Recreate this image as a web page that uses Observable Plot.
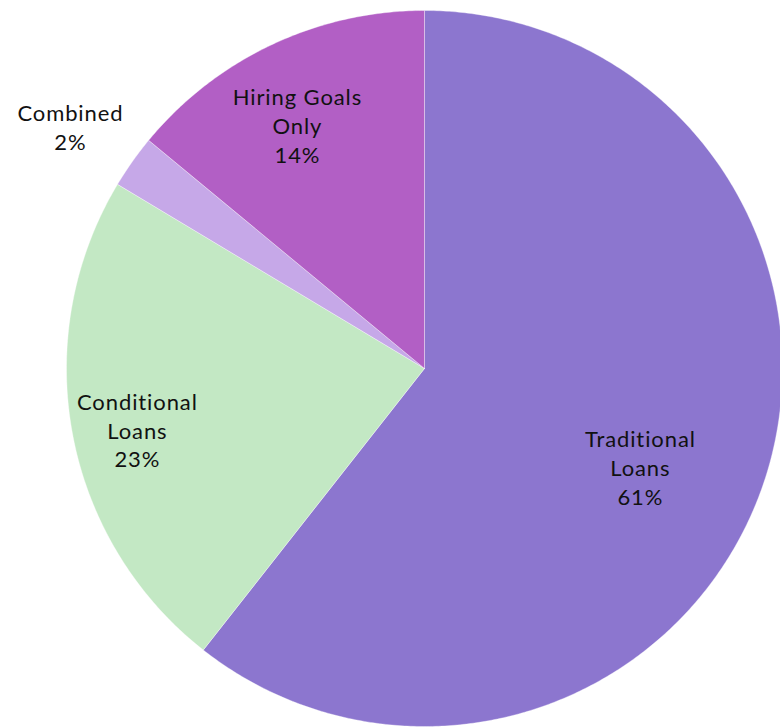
<!DOCTYPE html>
<html>
<head>
<meta charset="utf-8">
<script src="https://cdn.jsdelivr.net/npm/d3@7"></script>
<script src="https://cdn.jsdelivr.net/npm/@observablehq/plot@0.6"></script>
<style>
  html, body { margin: 0; padding: 0; background: #fff; }
  #chart svg { display: block; }
  #chart text { letter-spacing: 0.9px; }
</style>
</head>
<body>
<div id="chart"></div>
<script>
// ---- data ----
const categories = ["Traditional Loans", "Conditional Loans", "Combined", "Hiring Goals Only"];
const values = [60.6, 23.0, 2.4, 14.0];
const labelText = ["Traditional\nLoans", "Conditional\nLoans", "Combined", "Hiring Goals\nOnly"];
const colors = ["#8c76cf", "#c3e8c4", "#c6a8e8", "#b25fc5"];

// ---- layout ----
const W = 780, H = 727;
const cx = 424, cy = 368, R = 358;
// label anchors in units of the radius, relative to the pie centre (y up)
const labelPos = {
  "Traditional Loans": [0.603, -0.274],
  "Conditional Loans": [-0.802, -0.170],
  "Combined": [-0.989, 0.676],
  "Hiring Goals Only": [-0.355, 0.680]
};

const total = d3.sum(values);
const rows = categories.map((c, i) => ({
  category: c,
  value: values[i],
  label: labelText[i] + "\n" + Math.round(values[i] / total * 100) + "%"
}));
const arcs = d3.pie().sort(null).value(d => d.value)(rows);

const polyPts = [];
arcs.forEach(a => {
  polyPts.push({category: a.data.category, x: 0, y: 0});
  const n = Math.max(2, Math.ceil((a.endAngle - a.startAngle) / (Math.PI / 360)));
  for (let k = 0; k <= n; k++) {
    const t = a.startAngle + (a.endAngle - a.startAngle) * k / n;
    polyPts.push({category: a.data.category, x: Math.sin(t), y: Math.cos(t)});
  }
  polyPts.push({category: a.data.category, x: 0, y: 0});
});

const labels = rows.map(r => ({label: r.label, x: labelPos[r.category][0], y: labelPos[r.category][1]}));

const chart = Plot.plot({
  width: W,
  height: H,
  margin: 0,
  x: {domain: [-cx / R, (W - cx) / R], axis: null},
  y: {domain: [-(H - cy) / R, cy / R], axis: null},
  color: {domain: categories, range: colors},
  style: {fontFamily: "Lato, 'Noto Sans', sans-serif", background: "#fff"},
  marks: [
    Plot.line(polyPts, {x: "x", y: "y", z: "category", fill: "category", stroke: "#ffffff", strokeWidth: 0.6, strokeOpacity: 0.6, curve: "linear"}),
    Plot.text(labels, {x: "x", y: "y", text: "label", fontSize: 22, lineHeight: 1.31, fill: "#111", textAnchor: "middle", lineAnchor: "middle"})
  ]
});

document.getElementById("chart").appendChild(chart);
</script>
</body>
</html>
